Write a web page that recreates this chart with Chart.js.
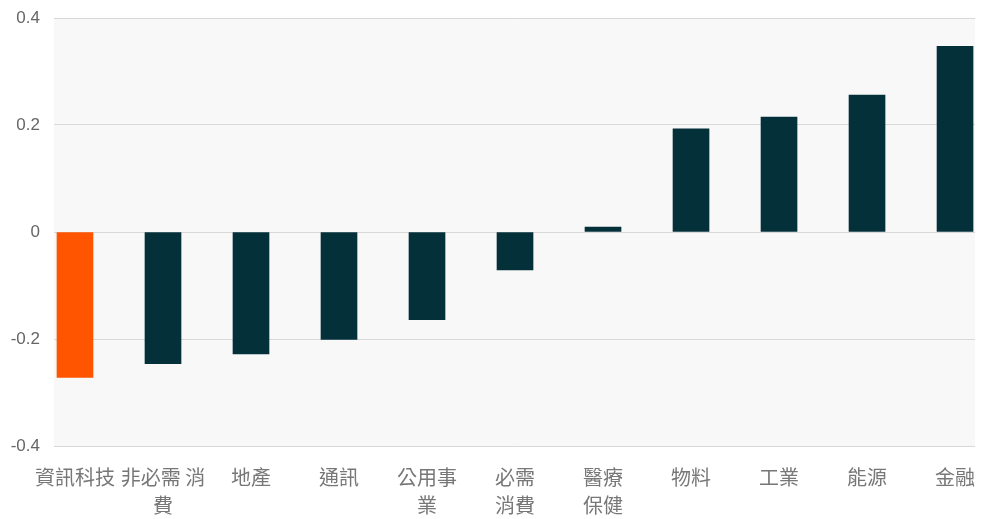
<!DOCTYPE html>
<html lang="zh-Hant">
<head>
    <meta charset="UTF-8">
    <title>Sector chart</title>
    <script src="https://cdn.jsdelivr.net/npm/chart.js"></script>
    <style>
        html, body { margin: 0; padding: 0; background: #fff; }
        #wrap { width: 994px; height: 519px; }
    </style>
</head>
<body>
    <div id="wrap"><canvas id="myChart"></canvas></div>
    <script>
        // data
        const categories = ['資訊科技', ['非必需 消', '費'], '地產', '通訊', ['公用事', '業'], ['必需', '消費'], ['醫療', '保健'], '物料', '工業', '能源', '金融'];
        const values = [-0.272, -0.246, -0.228, -0.201, -0.164, -0.071, 0.009, 0.193, 0.215, 0.256, 0.347];
        const yTicks = [-0.4, -0.2, 0, 0.2, 0.4];

        const highlight = 0; // 資訊科技 in orange

        // grey plot background
        const plotBg = {
            id: 'plotBg',
            beforeDraw(chart) {
                const a = chart.chartArea;
                const ctx = chart.ctx;
                ctx.save();
                ctx.fillStyle = '#f8f8f8';
                ctx.fillRect(a.left, a.top, a.right - a.left, a.bottom - a.top);
                ctx.restore();
            }
        };

        const config = {
            type: 'bar',
            data: {
                datasets: [{
                    data: values.map((v, i) => ({x: i, y: v})),
                    backgroundColor: values.map((v, i) => i === highlight ? '#ff5500' : '#04303a'),
                    barThickness: 36,
                    borderWidth: 0
                }]
            },
            options: {
                responsive: true,
                maintainAspectRatio: false,
                animation: false,
                layout: { padding: { top: 18, right: 19, left: 0, bottom: 0 } },
                plugins: {
                    legend: { display: false },
                    tooltip: { enabled: false }
                },
                scales: {
                    x: {
                        type: 'linear',
                        offset: false,
                        min: -0.2386,
                        max: 10.227,
                        grid: { display: false },
                        border: { display: false },
                        afterFit: (s) => { s.height = 73; },
                        afterBuildTicks: (s) => {
                            s.ticks = categories.map((c, i) => ({value: i}));
                        },
                        ticks: {
                            autoSkip: false,
                            maxRotation: 0,
                            padding: 9,
                            color: '#777',
                            font: { family: '"Noto Sans CJK TC"', size: 20, lineHeight: 1.4 },
                            callback: (v) => categories[v]
                        }
                    },
                    y: {
                        min: -0.4,
                        max: 0.4,
                        afterBuildTicks: (s) => {
                            s.ticks = yTicks.map(v => ({value: v}));
                        },
                        afterFit: (s) => {
                            s.width = 54;
                            s.paddingTop = 0;
                            s.paddingBottom = 0;
                        },
                        grid: { color: '#d8d8d8', drawTicks: false },
                        border: { display: false },
                        ticks: {
                            padding: 14,
                            color: '#666',
                            font: { family: 'Arial, "Liberation Sans"', size: 17 },
                            callback: (v) => String(Math.round(v * 10) / 10)
                        }
                    }
                }
            },
            plugins: [plotBg]
        };

        new Chart(document.getElementById('myChart').getContext('2d'), config);
    </script>
</body>
</html>
